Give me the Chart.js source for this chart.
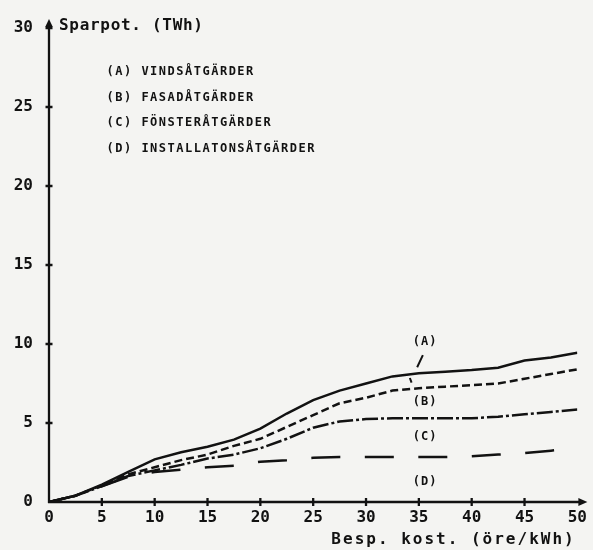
<!DOCTYPE html>
<html>
<head>
<meta charset="utf-8">
<script src="https://cdn.jsdelivr.net/npm/chart.js@4.4.1/dist/chart.umd.min.js"></script>
<style>
  html, body { margin: 0; padding: 0; background: #f4f4f2; }
  canvas { display: block; }
</style>
</head>
<body>
<canvas id="chart" width="593" height="550"></canvas>
<script>
// Besparingskostnad (öre/kWh)
const costs = [0, 2.5, 5, 7.5, 10, 12.5, 15, 17.5, 20, 22.5, 25, 27.5, 30, 32.5, 35, 37.5, 40, 42.5, 45, 47.5, 50];

// Ackumulerad sparpotential (TWh) per åtgärdsgrupp
const vindsatgarder = [0, 0.4, 1.1, 1.9, 2.7, 3.15, 3.5, 3.95, 4.65, 5.6, 6.45, 7.05, 7.5, 7.95, 8.15, 8.25, 8.35, 8.5, 8.95, 9.15, 9.45];
const fasadatgarder = [0, 0.4, 1.05, 1.75, 2.2, 2.65, 3.0, 3.55, 4.0, 4.75, 5.5, 6.25, 6.6, 7.05, 7.2, 7.3, 7.4, 7.5, 7.8, 8.1, 8.4];
const fonsteratgarder = [0, 0.4, 1.0, 1.65, 2.0, 2.35, 2.75, 3.0, 3.4, 4.0, 4.7, 5.1, 5.25, 5.3, 5.3, 5.3, 5.3, 5.4, 5.55, 5.7, 5.85];
const installationsatgarder = [0, 0.4, 1.0, 1.6, 1.9, 2.05, 2.2, 2.3, 2.55, 2.65, 2.8, 2.85, 2.85, 2.85, 2.85, 2.85, 2.9, 3.0, 3.1, 3.25, 3.4];

const legendLines = [
  '(A) VINDSÅTGÄRDER',
  '(B) FASADÅTGÄRDER',
  '(C) FÖNSTERÅTGÄRDER',
  '(D) INSTALLATONSÅTGÄRDER'
];

// Kurvmärkning i dataenheter (öre/kWh, TWh)
const curveTags = [
  { text: '(A)', x: 35.6, y: 10.15 },
  { text: '(B)', x: 35.6, y: 6.35 },
  { text: '(C)', x: 35.6, y: 4.1 },
  { text: '(D)', x: 35.6, y: 1.25 }
];
const pointerFrom = { x: 35.38, y: 9.3 };
const pointerTo = { x: 34.84, y: 8.53 };
const pointerNick = [{ x: 34.15, y: 7.85 }, { x: 34.31, y: 7.55 }];

const yTitle = 'Sparpot. (TWh)';
const xTitle = 'Besp. kost. (öre/kWh)';

const ink = '#121212';
const paper = '#f4f4f2';
const mono = '"DejaVu Sans Mono", "Liberation Mono", monospace';

function pts(values) {
  return costs.map((c, i) => ({ x: c, y: values[i] }));
}

const plotterPlugin = {
  id: 'plotter',
  beforeDraw(chart) {
    const { ctx, width, height } = chart;
    ctx.save();
    ctx.fillStyle = paper;
    ctx.fillRect(0, 0, width, height);
    ctx.restore();
  },
  afterDraw(chart) {
    const { ctx, chartArea: a, scales: { x, y } } = chart;
    const x0 = x.getPixelForValue(0);
    const y0 = y.getPixelForValue(0);
    ctx.save();
    ctx.strokeStyle = ink;
    ctx.fillStyle = ink;
    ctx.lineWidth = 2.3;
    ctx.lineCap = 'butt';

    // axes with arrowheads
    ctx.beginPath();
    ctx.moveTo(x0, y0 + 1);
    ctx.lineTo(x0, a.top - 2);
    ctx.moveTo(x0 - 1, y0);
    ctx.lineTo(a.right + 2, y0);
    ctx.stroke();

    ctx.beginPath();
    ctx.moveTo(x0, a.top - 9);
    ctx.lineTo(x0 - 3.8, a.top - 1);
    ctx.lineTo(x0 + 3.8, a.top - 1);
    ctx.closePath();
    ctx.fill();

    ctx.beginPath();
    ctx.moveTo(a.right + 10, y0);
    ctx.lineTo(a.right + 1, y0 - 4);
    ctx.lineTo(a.right + 1, y0 + 4);
    ctx.closePath();
    ctx.fill();

    // crossing tick marks
    ctx.beginPath();
    for (let v = 5; v <= 30; v += 5) {
      const py = y.getPixelForValue(v);
      ctx.moveTo(x0 - 3.5, py);
      ctx.lineTo(x0 + 3.5, py);
    }
    for (let v = 5; v <= 45; v += 5) {
      const px = x.getPixelForValue(v);
      ctx.moveTo(px, y0 - 4);
      ctx.lineTo(px, y0 + 4);
    }
    ctx.stroke();

    // axis titles
    ctx.textBaseline = 'alphabetic';
    ctx.textAlign = 'left';
    ctx.font = 'bold 16px ' + mono;
    ctx.letterSpacing = '0.7px';
    ctx.fillText(yTitle, x0 + 10, a.top + 1.5);
    ctx.letterSpacing = '2px';
    ctx.fillText(xTitle, a.right - 246, a.bottom + 41.5);

    // legend block
    ctx.font = 'bold 12px ' + mono;
    ctx.letterSpacing = '1.5px';
    legendLines.forEach((t, i) => {
      ctx.fillText(t, x0 + 57.5, a.top + 47 + i * 25.6);
    });

    // curve tags
    ctx.textAlign = 'center';
    ctx.textBaseline = 'middle';
    ctx.letterSpacing = '1px';
    curveTags.forEach(t => {
      ctx.fillText(t.text, x.getPixelForValue(t.x), y.getPixelForValue(t.y));
    });

    ctx.lineWidth = 2;
    ctx.beginPath();
    ctx.moveTo(x.getPixelForValue(pointerFrom.x), y.getPixelForValue(pointerFrom.y));
    ctx.lineTo(x.getPixelForValue(pointerTo.x), y.getPixelForValue(pointerTo.y));
    ctx.moveTo(x.getPixelForValue(pointerNick[0].x), y.getPixelForValue(pointerNick[0].y));
    ctx.lineTo(x.getPixelForValue(pointerNick[1].x), y.getPixelForValue(pointerNick[1].y));
    ctx.stroke();
    ctx.restore();
  }
};

const tickFont = { family: mono, size: 16, weight: 'bold' };

new Chart(document.getElementById('chart'), {
  type: 'line',
  data: {
    datasets: [
      { label: '(A) Vindsåtgärder', data: pts(vindsatgarder), borderColor: ink, borderWidth: 2.5, borderDash: [] },
      { label: '(B) Fasadåtgärder', data: pts(fasadatgarder), borderColor: ink, borderWidth: 2.5, borderDash: [8, 4] },
      { label: '(C) Fönsteråtgärder', data: pts(fonsteratgarder), borderColor: ink, borderWidth: 2.5, borderDash: [16, 3, 3, 3] },
      { label: '(D) Installationsåtgärder', data: pts(installationsatgarder), borderColor: ink, borderWidth: 2.5, borderDash: [29, 24.5] }
    ]
  },
  options: {
    responsive: false,
    animation: false,
    parsing: false,
    elements: { point: { radius: 0 }, line: { tension: 0, fill: false } },
    layout: { padding: { top: 28, right: 14, left: 0, bottom: 0 } },
    plugins: { legend: { display: false }, tooltip: { enabled: false } },
    scales: {
      x: {
        type: 'linear', min: 0, max: 50,
        grid: { display: false, drawTicks: false },
        border: { display: false },
        ticks: { stepSize: 5, padding: 6, color: ink, font: tickFont, maxRotation: 0, autoSkip: false },
        afterFit(s) { s.height = 48; }
      },
      y: {
        type: 'linear', min: 0, max: 30,
        grid: { display: false, drawTicks: false },
        border: { display: false },
        ticks: { stepSize: 5, padding: 16, color: ink, font: tickFont },
        afterFit(s) { s.width = 49; }
      }
    }
  },
  plugins: [plotterPlugin]
});
</script>
</body>
</html>
